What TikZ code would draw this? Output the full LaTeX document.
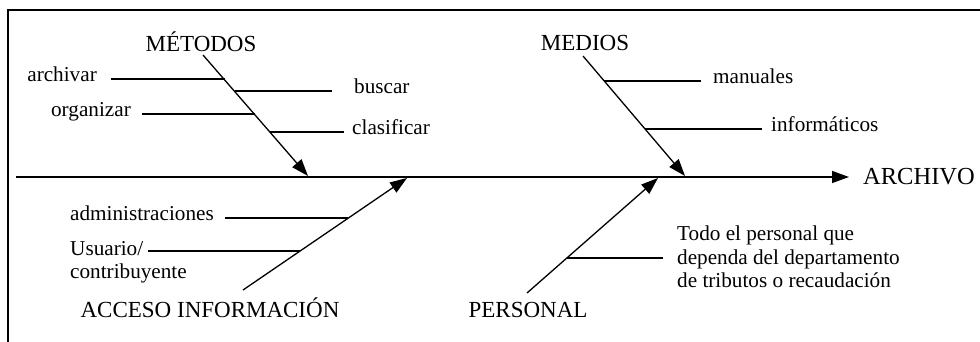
\documentclass[tikz,border=0pt]{standalone}
\usepackage{fontspec}
\setmainfont{Liberation Serif}
\usetikzlibrary{arrows.meta}
\begin{document}
\begin{tikzpicture}[x=1pt,y=-1pt,
  rib/.style={line width=1.3pt},
  bone/.style={line width=1.3pt,-{Triangle[length=17pt,width=12pt]}},
  small/.style={font=\fontsize{21.2}{23.3}\selectfont, inner sep=0pt},
  title/.style={font=\fontsize{23}{27}\selectfont, inner sep=0pt},
]
\useasboundingbox (0,0) rectangle (980,342);
\draw[line width=1.5pt] (980,10) -- (8,10) -- (8,342);

% spine
\coordinate (s0) at (16,177);
\coordinate (s1) at (849,177);
\draw[bone] (s0) -- (s1);
\node[font=\fontsize{24.5}{28}\selectfont, inner sep=0pt, anchor=base west] (archivo) at (863,184) {ARCHIVO};

% METODOS
\node[title, anchor=base] (met) at (201,52) {MÉTODOS};
\coordinate (m0) at (203,55);
\coordinate (m1) at (308,176);
\draw[bone] (m0) -- (m1);
\node[small, anchor=mid east] (archivar) at (97,79) {archivar};
\coordinate (a0) at (111,79); \coordinate (a1) at (224.5,79);
\draw[rib] (a0) -- (a1);
\node[small, anchor=mid west] (buscar) at (354,91) {buscar};
\coordinate (b0) at (235,91); \coordinate (b1) at (332,91);
\draw[rib] (b0) -- (b1);
\node[small, anchor=mid east] (organizar) at (131,114) {organizar};
\coordinate (o0) at (142,114); \coordinate (o1) at (254.5,114);
\draw[rib] (o0) -- (o1);
\node[small, anchor=mid west] (clasificar) at (352,132) {clasificar};
\coordinate (c0) at (270,132); \coordinate (c1) at (344,132);
\draw[rib] (c0) -- (c1);

% MEDIOS
\node[title, anchor=base] (med) at (585,51) {MEDIOS};
\coordinate (d0) at (583,56);
\coordinate (d1) at (685,176);
\draw[bone] (d0) -- (d1);
\node[small, anchor=mid west] (manuales) at (713,81) {manuales};
\coordinate (ma0) at (604,81); \coordinate (ma1) at (701,81);
\draw[rib] (ma0) -- (ma1);
\node[small, anchor=mid west] (informaticos) at (771,129) {informáticos};
\coordinate (i0) at (645,129); \coordinate (i1) at (762,129);
\draw[rib] (i0) -- (i1);

% ACCESO INFORMACION
\node[title, anchor=base] (acc) at (210,317) {ACCESO INFORMACIÓN};
\coordinate (e0) at (243,290);
\coordinate (e1) at (407,178);
\draw[bone] (e0) -- (e1);
\node[small, anchor=mid east] (admin) at (214,218) {administraciones};
\coordinate (ad0) at (225,218); \coordinate (ad1) at (348,218);
\draw[rib] (ad0) -- (ad1);
\node[small, anchor=north west, align=left] (usuario) at (70,241) {Usuario/\\contribuyente};
\coordinate (u0) at (148,251); \coordinate (u1) at (300,251);
\draw[rib] (u0) -- (u1);

% PERSONAL
\node[title, anchor=base] (per) at (528,317) {PERSONAL};
\coordinate (p0) at (527,293);
\coordinate (p1) at (658,178);
\draw[bone] (p0) -- (p1);
\node[small, anchor=north west, align=left] (todo) at (677,226) {Todo el personal que\\dependa del departamento\\de tributos o recaudación};
\coordinate (t0) at (567,258); \coordinate (t1) at (663,258);
\draw[rib] (t0) -- (t1);
\end{tikzpicture}
\end{document}
